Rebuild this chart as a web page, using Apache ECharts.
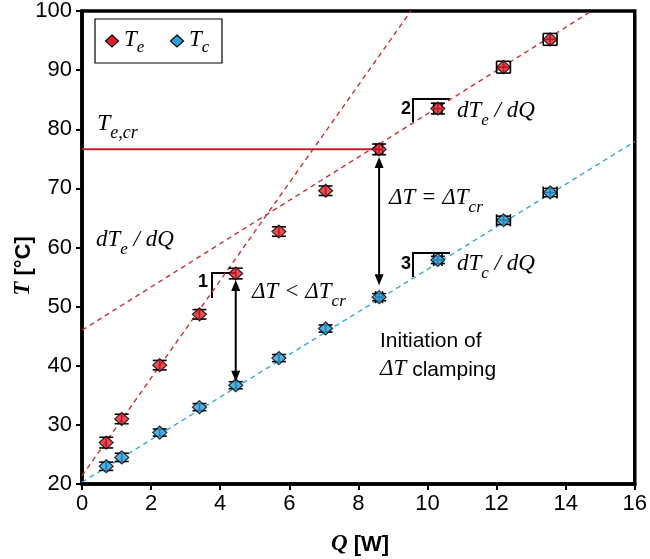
<!DOCTYPE html>
<html>
<head>
<meta charset="utf-8">
<script src="https://cdn.jsdelivr.net/npm/echarts@6/dist/echarts.min.js"></script>
<style>
  html, body { margin: 0; padding: 0; background: #fff; }
  #chart { width: 650px; height: 559px; }
</style>
</head>
<body>
<div id="chart"></div>
<script>
// Heat load Q [W] and measured temperatures [°C]
const heatLoad = [0.7, 1.15, 2.25, 3.4, 4.45, 5.7, 7.05, 8.6, 10.3, 12.2, 13.55];
const tempEvap = [27.0, 31.0, 40.1, 48.7, 55.6, 62.7, 69.6, 76.6, 83.5, 90.5, 95.2];
const tempCond = [23.0, 24.5, 28.7, 33.0, 36.7, 41.3, 46.3, 51.6, 57.9, 64.6, 69.3];
// Uncertainties (temperature and heat load)
const errEvap = [0.9, 0.8, 0.8, 0.8, 0.9, 0.8, 0.8, 0.9, 0.9, 1.0, 1.0];
const errCond = [0.7, 0.7, 0.6, 0.6, 0.6, 0.6, 0.6, 0.6, 0.6, 0.7, 0.7];
const errHeat = [0, 0, 0, 0, 0, 0, 0, 0.1, 0.12, 0.2, 0.2];

// Linear trend segments (end points)
const trendEvapLow = [[0, 21.4], [9.52, 100]];
const trendEvapHigh = [[0, 46.0], [14.75, 100]];
const trendCond = [[0, 20.3], [16, 77.9]];
const criticalEvap = [[0, 76.6], [8.6, 76.6]];

// Double-headed arrows: heat load, upper tip, lower tip
const arrowHeat = [4.45, 8.6];
const arrowTop = [54.5, 75.3];
const arrowBottom = [37.3, 53.6];

// Axis ticks
const xTicks = { min: 0, max: 16, step: 2 };
const yTicks = { min: 20, max: 100, step: 10 };

const RED = '#e3202a';
const BLUE = '#2d9fd9';
const RED_LINE = '#c8303a';
const BLUE_LINE = '#35a9e1';
const SERIF = '"Liberation Serif", "DejaVu Serif", serif';
const SANS = '"Liberation Sans", Arial, sans-serif';

const chart = echarts.init(document.getElementById('chart'), null, { renderer: 'canvas' });

const evapData = heatLoad.map((q, i) => [q, tempEvap[i]]);
const condData = heatLoad.map((q, i) => [q, tempCond[i]]);
const evapErr = heatLoad.map((q, i) => [q, tempEvap[i], errEvap[i], errHeat[i]]);
const condErr = heatLoad.map((q, i) => [q, tempCond[i], errCond[i], errHeat[i]]);
const arrowData = arrowHeat.map((q, i) => [q, arrowTop[i], arrowBottom[i]]);

function renderErrorBar(params, api) {
  const q = api.value(0), t = api.value(1), et = api.value(2), eq = api.value(3);
  const top = api.coord([q, t + et]);
  const bot = api.coord([q, t - et]);
  const cap = 7, vcap = 6;
  const style = { stroke: '#000', lineWidth: 1.6 };
  const seg = (x1, y1, x2, y2) => ({ type: 'line', shape: { x1, y1, x2, y2 }, style });
  const children = [
    seg(top[0], top[1], bot[0], bot[1]),
    seg(top[0] - cap, top[1], top[0] + cap, top[1]),
    seg(bot[0] - cap, bot[1], bot[0] + cap, bot[1])
  ];
  if (eq > 0) {
    const lef = api.coord([q - eq, t]);
    const rig = api.coord([q + eq, t]);
    children.push(
      seg(lef[0], lef[1], rig[0], rig[1]),
      seg(lef[0], lef[1] - vcap, lef[0], lef[1] + vcap),
      seg(rig[0], rig[1] - vcap, rig[0], rig[1] + vcap)
    );
  }
  return { type: 'group', children };
}

function renderArrow(params, api) {
  const q = api.value(0);
  const p1 = api.coord([q, api.value(1)]);
  const p2 = api.coord([q, api.value(2)]);
  const hl = 11, hw = 4.5;
  const st = { fill: '#000' };
  return {
    type: 'group',
    children: [
      { type: 'line', shape: { x1: p1[0], y1: p1[1] + hl - 1, x2: p2[0], y2: p2[1] - hl + 1 }, style: { stroke: '#000', lineWidth: 2 } },
      { type: 'polygon', shape: { points: [[p1[0], p1[1]], [p1[0] - hw, p1[1] + hl], [p1[0] + hw, p1[1] + hl]] }, style: st },
      { type: 'polygon', shape: { points: [[p2[0], p2[1]], [p2[0] - hw, p2[1] - hl], [p2[0] + hw, p2[1] - hl]] }, style: st }
    ]
  };
}

const dashed = (color) => ({ color, width: 1.4, type: [5, 4] });

const option = {
  animation: false,
  backgroundColor: '#fff',
  grid: { left: 82, right: 12, top: 10, bottom: 75, show: true, borderColor: '#000', borderWidth: 3.5, backgroundColor: 'transparent' },
  xAxis: {
    type: 'value', min: xTicks.min, max: xTicks.max, interval: xTicks.step,
    axisLine: { show: true, onZero: false, lineStyle: { color: '#000', width: 3.5 } },
    axisTick: { show: true, inside: false, length: 6, lineStyle: { color: '#000', width: 2 } },
    axisLabel: { color: '#000', fontSize: 22, fontFamily: SANS, margin: 9 },
    splitLine: { show: false }
  },
  yAxis: {
    type: 'value', min: yTicks.min, max: yTicks.max, interval: yTicks.step,
    axisLine: { show: true, onZero: false, lineStyle: { color: '#000', width: 3.5 } },
    axisTick: { show: true, inside: false, length: 6, lineStyle: { color: '#000', width: 2 } },
    axisLabel: { color: '#000', fontSize: 22, fontFamily: SANS, margin: 10 },
    splitLine: { show: false }
  },
  series: [
    { type: 'line', data: trendEvapLow, showSymbol: false, lineStyle: dashed(RED_LINE), silent: true, z: 1 },
    { type: 'line', data: trendEvapHigh, showSymbol: false, lineStyle: dashed(RED_LINE), silent: true, z: 1 },
    { type: 'line', data: trendCond, showSymbol: false, lineStyle: dashed(BLUE_LINE), silent: true, z: 1 },
    { type: 'line', data: criticalEvap, showSymbol: false, lineStyle: { color: '#c01f2c', width: 2 }, silent: true, z: 1 },
    { type: 'custom', data: evapErr, renderItem: renderErrorBar, encode: { x: 0, y: 1 }, z: 2, silent: true },
    { type: 'custom', data: condErr, renderItem: renderErrorBar, encode: { x: 0, y: 1 }, z: 2, silent: true },
    { type: 'scatter', data: evapData, symbol: 'diamond', symbolSize: [14, 13], itemStyle: { color: RED, borderColor: '#000', borderWidth: 1.2 }, z: 3 },
    { type: 'scatter', data: condData, symbol: 'diamond', symbolSize: [14, 13], itemStyle: { color: BLUE, borderColor: '#000', borderWidth: 1.2 }, z: 3 },
    { type: 'custom', data: arrowData, renderItem: renderArrow, encode: { x: 0, y: [1, 2] }, z: 4, silent: true, clip: false }
  ]
};
chart.setOption(option);

// ---- annotations ----
const ctx = document.createElement('canvas').getContext('2d');
function run(x, baseline, parts, align) {
  const widths = parts.map(p => { ctx.font = p[1]; return ctx.measureText(p[0]).width; });
  const total = widths.reduce((a, b) => a + b, 0);
  let cx = align === 'center' ? x - total / 2 : (align === 'right' ? x - total : x);
  return parts.map((p, i) => {
    const size = parseFloat(p[1].match(/(\d+(\.\d+)?)px/)[1]);
    const el = {
      type: 'text', x: cx, y: baseline + (p[2] || 0) - 0.33 * size,
      style: { text: p[0], font: p[1], fill: '#000', align: 'left', verticalAlign: 'middle' }
    };
    cx += widths[i];
    return el;
  });
}
const it = (s) => `italic ${s}px ${SERIF}`;
const sans = (s) => `${s}px ${SANS}`;
const bold = (s) => `bold ${s}px ${SANS}`;

function diamond(cx, cy, color) {
  return { type: 'polygon', shape: { points: [[cx, cy - 6], [cx + 6.5, cy], [cx, cy + 6], [cx - 6.5, cy]] }, style: { fill: color, stroke: '#000', lineWidth: 1.2 } };
}
function bracket(x, y, w, h) {
  return { type: 'polyline', shape: { points: [[x + w, y], [x, y], [x, y + h]] }, style: { stroke: '#000', lineWidth: 2, fill: null } };
}

const graphics = [
  // legend
  { type: 'rect', shape: { x: 95, y: 19, width: 127, height: 44 }, style: { fill: '#fff', stroke: '#000', lineWidth: 1.2 } },
  diamond(112, 41, RED),
  ...run(124, 48, [['T', it(23)], ['e', it(17), 5]]),
  diamond(177, 41, BLUE),
  ...run(189, 48, [['T', it(23)], ['c', it(17), 5]]),
  // labels
  ...run(97, 132, [['T', it(24)], ['e,cr', it(18), 7]]),
  ...run(96, 248, [['dT', it(23)], ['e', it(17), 7], [' / dQ', it(23)]]),
  ...run(457, 119, [['dT', it(23)], ['e', it(17), 7], [' / dQ', it(23)]]),
  ...run(457, 272, [['dT', it(23)], ['c', it(17), 7], [' / dQ', it(23)]]),
  ...run(389, 206, [['ΔT = ΔT', it(23)], ['cr', it(17), 7]]),
  ...run(252, 300, [['ΔT < ΔT', it(23)], ['cr', it(17), 7]]),
  ...run(380, 348, [['Initiation of', sans(21)]]),
  ...run(380, 377, [['ΔT', it(23)], [' clamping', sans(21)]]),
  // slope markers
  bracket(212, 273, 23, 25),
  ...run(208, 288, [['1', bold(18)]], 'right'),
  bracket(413, 99, 37, 23),
  ...run(411, 115, [['2', bold(18)]], 'right'),
  bracket(413, 253, 37, 24),
  ...run(411, 270, [['3', bold(18)]], 'right'),
  // axis titles
  ...run(360, 552, [['Q', `bold italic 23px ${SERIF}`], [' [W]', bold(22)]], 'center'),
  {
    type: 'group', x: 31, y: 266, rotation: Math.PI / 2,
    children: run(0, 0, [['T', `bold italic 23px ${SERIF}`], [' [°C]', bold(22)]], 'center')
  }
];
chart.setOption({ graphic: graphics });
</script>
</body>
</html>
